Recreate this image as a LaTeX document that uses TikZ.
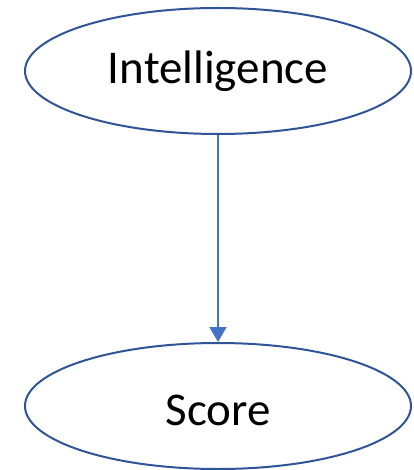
\documentclass[tikz,border=0pt]{standalone}
\usepackage{fontspec}
\setmainfont{Carlito}
\usetikzlibrary{shapes.geometric,arrows.meta}
\definecolor{nodeline}{RGB}{47,85,151}
\definecolor{edgeline}{RGB}{68,114,196}
\tikzset{
  varnode/.style={ellipse, draw=nodeline, line width=2pt, fill=white,
    minimum width=386pt, minimum height=126pt, inner sep=0pt,
    font=\fontsize{47}{56}\selectfont},
  causal/.style={draw=edgeline, line width=2pt,
    -{Triangle[length=15pt,width=17pt]}}
}
\begin{document}
\begin{tikzpicture}[x=1pt,y=-1pt]
  \useasboundingbox (0,0) rectangle (413,470);
  \node[varnode] (intel) at (218,71) {Intelligence};
  \node[varnode, text height=39pt, text depth=0pt] (score) at (218,406) {Score};
  \draw[causal] (intel.south) -- (score.north);
\end{tikzpicture}
\end{document}
